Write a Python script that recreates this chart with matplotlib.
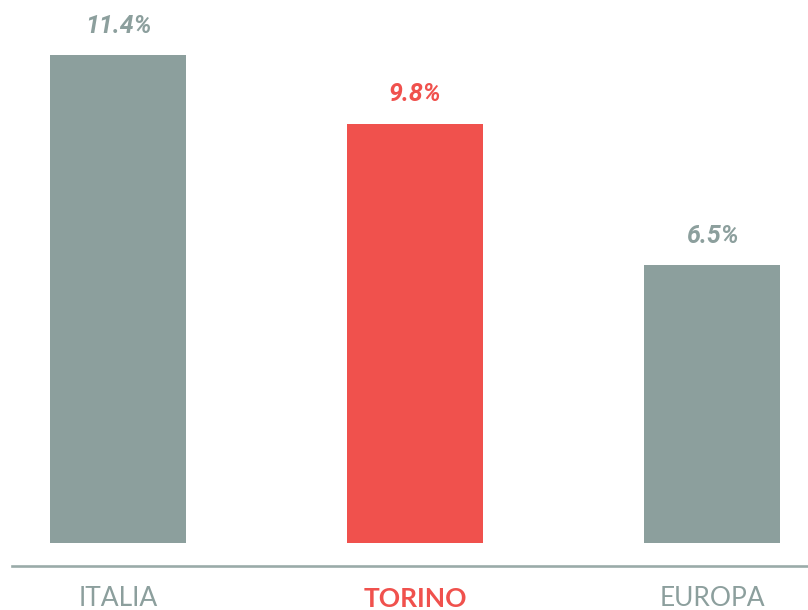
import matplotlib.pyplot as plt

regions = ['ITALIA', 'TORINO', 'EUROPA']
values = [11.4, 9.8, 6.5]
value_labels = ['11.4%', '9.8%', '6.5%']

grey = '#8c9f9d'
red = '#f0514d'
colors = [grey, red, grey]

fig = plt.figure(figsize=(8.08, 6.10), dpi=100)
ax = fig.add_axes([0, 0, 1, 1])

x = range(len(regions))
bars = ax.bar(x, values, width=0.458, color=colors)

ax.set_xlim(-0.397, 2.323)
ax.set_ylim(-1.565, 12.69)
ax.axis('off')

# baseline under the bars
ax.axhline(-0.537, xmin=12/808, xmax=1, color='#9aaba9', lw=1.9)

for i, (b, lab) in enumerate(zip(bars, value_labels)):
    ax.annotate(lab, (b.get_x() + b.get_width()/2, b.get_height()),
                xytext=(0, 16), textcoords='offset points',
                ha='center', va='baseline', fontsize=18,
                family='Roboto', weight='bold', style='italic',
                color=colors[i])

for i, name in enumerate(regions):
    ax.text(i, -1.3, name, ha='center', va='center', fontsize=19,
            family='Lato', weight='bold' if i == 1 else 'normal',
            color=colors[i])

plt.savefig('out.png', dpi=100)
